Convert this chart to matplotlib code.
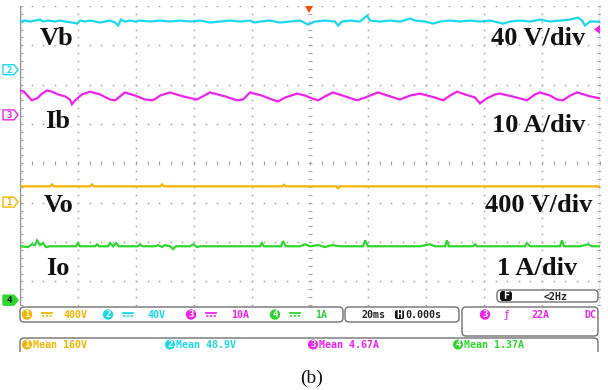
import numpy as np
import matplotlib.pyplot as plt
from matplotlib.patches import Polygon, FancyBboxPatch, Rectangle, Circle

# scope settings (20 ms/div, 8 x 10 divisions)
time_per_div = 20
ch_names = ["Vo", "Vb", "Ib", "Io"]          # channels 1..4
ch_scale = [400, 40, 10, 1]                  # units per division
ch_offset = [-0.984, 2.38, 1.233, -3.477]    # ground marker position, divisions
ch_colors = ["#f4b400", "#18d8ec", "#ee22ee", "#2dd62d"]
ch_means = ["160V", "48.9V", "4.67A", "1.37A"]
ch_setting = ["400V", "40V", "10A", "1A"]

# traces: time in ms, value in V or A
vb_t = [-100.0, -98.3, -96.6, -94.8, -93.1, -92.1, -90.3, -87.9, -86.2, -84.5,
        -82.1, -80.3, -79.3, -77.6, -75.9, -74.1, -72.4, -70.7, -69.0, -67.2,
        -66.2, -65.2, -63.8, -62.1, -60.3, -58.6, -55.2, -51.7, -48.3, -44.8,
        -41.4, -37.9, -34.5, -31.0, -27.6, -24.1, -20.7, -19.0, -17.2, -13.8,
        -10.3, -6.9, -3.4, -0.7, 1.7, 5.2, 8.6, 9.7, 11.0, 13.8, 17.2, 19.7,
        20.7, 24.1, 27.6, 31.0, 34.5, 36.2, 39.7, 42.4, 44.8, 48.3, 51.7, 55.2,
        58.6, 62.1, 66.6, 69.0, 72.4, 75.9, 79.3, 82.8, 86.2, 89.7, 92.4, 93.8,
        94.8, 96.6, 100.0]
vb_v = [49.0, 50.0, 49.0, 50.0, 51.0, 49.0, 50.0, 49.0, 50.0, 49.0,
        48.0, 46.9, 50.0, 49.0, 50.0, 49.0, 48.0, 49.0, 50.0, 48.0,
        44.9, 51.0, 49.0, 50.0, 49.0, 50.0, 49.0, 50.0, 49.0, 50.0,
        49.0, 50.0, 48.0, 49.0, 50.0, 49.0, 50.0, 48.0, 49.0, 50.0,
        48.0, 49.0, 50.0, 45.9, 49.0, 50.0, 49.0, 44.9, 49.0, 50.0, 49.0, 55.0,
        50.0, 49.0, 50.0, 49.0, 52.0, 50.0, 49.0, 46.9, 49.0, 50.0, 49.0, 50.0,
        49.0, 50.0, 46.9, 49.0, 50.0, 49.0, 51.0, 49.0, 50.0, 51.0, 53.0, 50.0,
        44.9, 49.0, 49.0]

ib_t = [-100.0, -98.6, -97.2, -95.9, -94.1, -92.4, -90.7, -89.0, -86.9, -84.5,
        -82.8, -82.1, -80.7, -78.6, -75.9, -72.4, -69.0, -67.2, -65.5, -63.8,
        -60.3, -56.9, -54.1, -51.7, -48.3, -43.8, -39.0, -34.5, -29.3, -25.2,
        -23.1, -20.7, -16.6, -13.1, -11.0, -8.6, -4.5, -1.7, 0.7, 2.8, 5.2,
        7.9, 12.1, 16.2, 19.0, 23.4, 27.6, 31.0, 34.5, 37.9, 43.1, 45.9, 48.3,
        50.7, 53.4, 56.9, 58.6, 61.0, 63.8, 65.5, 69.7, 74.8, 77.6, 79.3, 82.8,
        85.2, 87.2, 89.7, 92.1, 96.6, 100.0]
ib_a = [6.2, 5.9, 4.7, 3.7, 4.2, 5.4, 6.2, 5.9, 5.2, 4.7,
        3.9, 2.7, 3.9, 5.2, 5.9, 5.2, 3.9, 3.7, 4.7, 5.7,
        4.9, 3.9, 3.7, 4.9, 5.7, 4.7, 3.9, 5.7, 4.7, 3.7,
        3.9, 5.7, 4.9, 3.9, 3.4, 4.4, 5.4, 4.9, 4.2, 3.7, 4.7,
        5.7, 4.7, 3.7, 4.4, 5.7, 4.7, 3.9, 4.9, 5.4, 4.4, 3.7, 4.9,
        5.9, 5.2, 4.4, 2.9, 4.2, 5.2, 5.4, 4.7, 3.7, 5.2, 5.7, 4.9,
        3.9, 3.7, 4.9, 5.7, 4.7, 4.2]

vo_t = [-100.0, -89.7, -89.0, -88.3, -75.9, -75.2, -74.5, -51.7, -51.0, -50.3,
        -9.7, -9.0, -8.3, 9.0, 9.7, 10.3, 100.0]
vo_v = [160, 160, 180, 160, 160, 180, 160, 160, 180, 160,
        160, 175, 160, 160, 140, 160, 160]

io_t = [-100.0, -97.2, -95.9, -94.8, -94.1, -93.1, -92.1, -91.0, -89.7, -86.2,
        -80.7, -80.0, -79.3, -74.1, -73.4, -72.8, -69.7, -69.0, -67.9, -66.9,
        -65.9, -59.3, -58.6, -57.9, -53.4, -52.4, -51.0, -50.0, -48.3, -47.2,
        -46.2, -41.4, -40.3, -39.0, -37.9, -24.1, -17.2, -16.6, -15.9, -10.0,
        -9.3, -8.3, -3.4, -1.7, 0.0, 2.8, 5.2, 7.6, 10.3, 18.3, 19.0, 20.0,
        31.0, 37.9, 41.4, 43.1, 46.6, 47.2, 47.9, 56.2, 56.9, 57.6, 65.5, 74.1,
        74.8, 75.9, 81.0, 86.2, 86.9, 87.6, 93.1, 95.9, 97.2, 100.0]
io_a = [1.37, 1.35, 1.42, 1.40, 1.52, 1.40, 1.45, 1.35, 1.37, 1.37,
        1.37, 1.45, 1.37, 1.37, 1.42, 1.37, 1.37, 1.45, 1.37, 1.45,
        1.37, 1.37, 1.42, 1.37, 1.37, 1.40, 1.35, 1.40, 1.37, 1.30,
        1.37, 1.37, 1.42, 1.35, 1.37, 1.37, 1.37, 1.45, 1.37, 1.37,
        1.50, 1.37, 1.37, 1.42, 1.37, 1.40, 1.35, 1.40, 1.37, 1.37, 1.52, 1.37,
        1.37, 1.37, 1.42, 1.37, 1.37, 1.52, 1.37, 1.37, 1.42, 1.37, 1.37, 1.37,
        1.45, 1.37, 1.37, 1.37, 1.52, 1.37, 1.37, 1.42, 1.37, 1.37]

traces = {"Vo": (vo_t, vo_v), "Vb": (vb_t, vb_v), "Ib": (ib_t, ib_a), "Io": (io_t, io_a)}

W, H = 608, 390
grid_c = "#a4a4a4"
mono = "DejaVu Sans Mono"

fig = plt.figure(figsize=(W / 100, H / 100), dpi=100)
ax = fig.add_axes([20 / W, (H - 305) / H, 580 / W, 299 / H])
ax.set_xlim(-5 * time_per_div, 5 * time_per_div)
ax.set_ylim(-3.6, 4.0)
ax.axis("off")

# graticule: dotted lines with a dot every 1/5 division
mx = np.arange(-100, 100.01, time_per_div / 5)
my = np.arange(-3.6, 4.001, 0.2)
for gx in [-80, -60, -40, -20, 20, 40, 60, 80]:
    ax.plot(np.full(len(my), gx), my, ls="none", marker="s", ms=1.1, mew=0, color=grid_c)
for gy in [4, 3, 2, 1, -1, -2, -3]:
    ax.plot(mx, np.full(len(mx), gy), ls="none", marker="s", ms=1.1, mew=0, color=grid_c)
ax.plot(np.zeros(len(my)), my, ls="none", marker="_", ms=3, mew=0.8, color=grid_c)
ax.plot(mx, np.zeros(len(mx)), ls="none", marker="|", ms=2.5, mew=0.8, color=grid_c)
for bx in [-100, 100]:
    ax.axvline(bx, color="#8a8a8a", lw=1.0)
    ax.plot(np.full(len(my), bx), my, ls="none", marker="_", ms=4, mew=0.8, color=grid_c)

for i, name in enumerate(ch_names):
    t, v = traces[name]
    y = ch_offset[i] + np.array(v) / ch_scale[i]
    ax.plot(t, y, color=ch_colors[i], lw=1.6, solid_joinstyle="miter")

# overlay in pixel coordinates for the screen furniture
ov = fig.add_axes([0, 0, 1, 1])
ov.set_xlim(0, W)
ov.set_ylim(H, 0)
ov.axis("off")
ov.patch.set_visible(False)


def ypix(div):
    return H - ax.transData.transform((0, div))[1]


def badge(x, y, num, color, r=5.2):
    ov.add_patch(Circle((x, y), r, fc=color, ec="none"))
    ov.text(x, y + 0.3, str(num), color="white", fontsize=6.5, family=mono,
            weight="bold", ha="center", va="center")


# channel ground markers on the left
for i in range(4):
    yc = ypix(ch_offset[i])
    filled = i == 3
    pts = [(3, yc - 5), (14, yc - 5), (18, yc), (14, yc + 5), (3, yc + 5)]
    ov.add_patch(Polygon(pts, closed=True, fc=ch_colors[i] if filled else "white",
                         ec=ch_colors[i], lw=1.0))
    ov.text(9, yc + 0.5, str(i + 1), color="#111111" if filled else ch_colors[i],
            fontsize=6.5, family=mono, weight="bold", ha="center", va="center")

# trigger position and level markers
ov.add_patch(Polygon([(305, 6), (313, 6), (309, 13)], closed=True, fc="#ff4a10", ec="none"))
ov.add_patch(Polygon([(600, 25), (600, 34), (594, 29.5)], closed=True, fc=ch_colors[2], ec="none"))

# trace labels
serif = dict(family="Liberation Serif", weight="bold", fontsize=19, color="#111111")
left_lbl = [("Vb", 40, 45), ("Ib", 45, 128), ("Vo", 44, 212), ("Io", 46, 275)]
right_lbl = [("40 V/div", 585, 45), ("10 A/div", 585, 132), ("400 V/div", 592, 212),
             ("1 A/div", 577, 275)]
for s, x, y in left_lbl:
    ov.text(x, y, s, ha="left", va="baseline", **serif)
for s, x, y in right_lbl:
    ov.text(x, y, s, ha="right", va="baseline", **serif)

# status bars
box = dict(boxstyle="round,pad=0,rounding_size=4", fc="white", ec="#707070", lw=1.0)
for x0, y0, w, h in [(20, 307, 323, 15), (345, 307, 114, 15), (462, 307, 136, 29),
                     (497, 290, 101, 12)]:
    ov.add_patch(FancyBboxPatch((x0, y0), w, h, **box))
meas = FancyBboxPatch((20, 338), 578, 30, **box)
ov.add_patch(meas)
meas.set_clip_path(Rectangle((0, 330), W, 22, transform=ov.transData))

st = dict(family=mono, weight="bold", fontsize=7.2)
set_x = [27, 108, 191, 275]
for i in range(4):
    c = ch_colors[i]
    badge(set_x[i], 314.5, i + 1, c)
    ov.plot([set_x[i] + 15, set_x[i] + 25], [312.5, 312.5], color=c, lw=1.3)
    ov.plot([set_x[i] + 15, set_x[i] + 25], [315.5, 315.5], color=c, lw=1.1, ls=(0, (1.5, 1)))
    ov.text(set_x[i] + 37 if i == 0 else set_x[i] + 40, 318.5, ch_setting[i], color=c,
            ha="left", va="baseline", **st)

ov.text(362, 318.5, "20ms", color="#222222", ha="left", va="baseline", **st)
ov.add_patch(FancyBboxPatch((395, 310), 9, 9, boxstyle="round,pad=0,rounding_size=2",
                            fc="#111111", ec="none"))
ov.text(399.5, 314.8, "H", color="white", ha="center", va="center", **st)
ov.text(405, 318.5, "0.000s", color="#222222", ha="left", va="baseline", **st)

badge(485, 314.5, 3, ch_colors[2])
ov.text(507, 315, "\u0192", color=ch_colors[2], fontsize=8, family="DejaVu Sans",
        ha="center", va="center")
ov.text(532, 318.5, "22A", color=ch_colors[2], ha="left", va="baseline", **st)
ov.text(596, 318.5, "DC", color=ch_colors[2], ha="right", va="baseline", **st)

ov.add_patch(FancyBboxPatch((500, 291), 12, 10, boxstyle="round,pad=0,rounding_size=3",
                            fc="#111111", ec="none"))
ov.text(506, 296.3, "F", color="white", ha="center", va="center", **st)
ov.text(556, 300, "<2Hz", color="#222222", ha="center", va="baseline", **st)

mean_x = [22, 165, 308, 453]
for i in range(4):
    c = ch_colors[i]
    badge(mean_x[i] + 5, 344.5, i + 1, c, r=5.0)
    ov.text(mean_x[i] + 11, 348, "Mean " + ch_means[i], color=c, ha="left",
            va="baseline", **st)

ov.text(312, 378, "(b)", family="Liberation Serif", fontsize=14, color="#111111",
        ha="center", va="center")

fig.savefig("out.png", dpi=100)
